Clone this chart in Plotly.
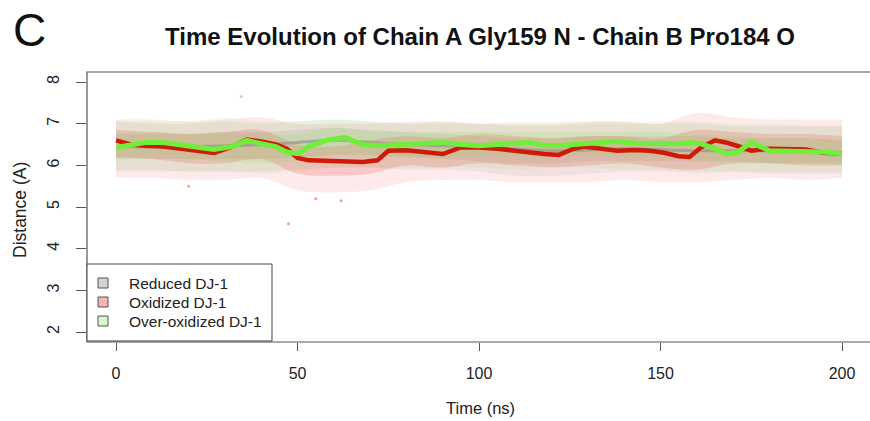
import plotly.graph_objects as go

# ---------------- data ----------------
series_names = ["Reduced DJ-1", "Oxidized DJ-1", "Over-oxidized DJ-1"]

# smoothed lines
line_t = [0, 4, 8, 13, 18, 23, 27, 32, 36, 40, 44, 47, 50, 53, 58, 63, 68, 72, 75, 80,
          85, 90, 95, 100, 105, 110, 114, 118, 122, 126, 129, 134, 138, 143, 147, 151,
          155, 158, 161, 165, 168, 171, 175, 180, 185, 190, 195, 200]
red_line = [6.60, 6.50, 6.47, 6.45, 6.40, 6.35, 6.30, 6.45, 6.62, 6.57, 6.50, 6.40, 6.18,
            6.12, 6.10, 6.08, 6.08, 6.12, 6.35, 6.36, 6.32, 6.27, 6.43, 6.43, 6.40, 6.35,
            6.30, 6.27, 6.25, 6.40, 6.45, 6.38, 6.35, 6.37, 6.35, 6.30, 6.22, 6.20, 6.42,
            6.60, 6.55, 6.47, 6.35, 6.40, 6.40, 6.38, 6.30, 6.28]
green_line = [6.43, 6.50, 6.55, 6.55, 6.50, 6.45, 6.38, 6.45, 6.60, 6.52, 6.45, 6.32, 6.28,
              6.45, 6.60, 6.67, 6.50, 6.47, 6.48, 6.50, 6.53, 6.55, 6.50, 6.47, 6.50, 6.52,
              6.55, 6.48, 6.47, 6.50, 6.52, 6.55, 6.57, 6.53, 6.52, 6.52, 6.52, 6.55, 6.52,
              6.40, 6.28, 6.30, 6.55, 6.35, 6.35, 6.33, 6.32, 6.28]
grey_t = [0, 20, 40, 50, 60, 70, 80, 100, 120, 140, 160, 180, 200]
grey_line = [6.45, 6.45, 6.50, 6.55, 6.60, 6.55, 6.50, 6.45, 6.35, 6.40, 6.35, 6.35, 6.30]

# spread of the point clouds (outer = sparse extent, inner = dense core)
band_t = [0, 10, 20, 30, 40, 50, 60, 70, 80, 90, 100, 110, 120, 130, 140, 150, 160, 170, 180, 190, 200]
ox_outer_lo = [5.70, 5.70, 5.65, 5.65, 5.70, 5.40, 5.35, 5.40, 5.60, 5.65, 5.65, 5.60, 5.60, 5.60, 5.65, 5.60, 5.60, 5.65, 5.70, 5.65, 5.70]
ox_outer_hi = [7.10, 7.10, 7.05, 7.10, 7.15, 7.00, 7.00, 7.00, 7.05, 7.05, 7.00, 7.00, 7.00, 7.05, 7.05, 7.00, 7.25, 7.15, 7.10, 7.10, 7.10]
ox_inner_lo = [6.20, 6.15, 6.05, 6.05, 6.15, 5.80, 5.75, 5.80, 6.00, 5.95, 6.05, 6.00, 5.95, 6.00, 6.05, 5.95, 5.90, 6.05, 6.05, 6.00, 6.00]
ox_inner_hi = [6.85, 6.80, 6.75, 6.80, 6.85, 6.50, 6.45, 6.60, 6.70, 6.65, 6.75, 6.70, 6.65, 6.70, 6.70, 6.65, 6.85, 6.80, 6.75, 6.75, 6.70]
ov_outer_lo = [5.90, 5.90, 5.85, 5.85, 5.80, 5.85, 5.95, 5.95, 5.95, 5.95, 5.95, 5.90, 5.95, 5.95, 5.90, 5.90, 5.80, 5.85, 5.85, 5.85, 5.85]
ov_outer_hi = [7.05, 7.05, 7.05, 7.15, 7.05, 7.05, 7.10, 7.05, 7.00, 7.05, 7.00, 7.05, 7.05, 7.05, 7.05, 7.05, 7.05, 7.00, 7.00, 6.95, 6.95]
ov_inner_lo = [6.15, 6.20, 6.15, 6.10, 6.05, 6.10, 6.25, 6.20, 6.20, 6.20, 6.20, 6.20, 6.20, 6.25, 6.20, 6.20, 6.10, 6.05, 6.05, 6.05, 6.00]
ov_inner_hi = [6.75, 6.80, 6.75, 6.75, 6.75, 6.75, 6.90, 6.80, 6.80, 6.80, 6.80, 6.80, 6.80, 6.80, 6.80, 6.80, 6.75, 6.70, 6.65, 6.65, 6.60]
rd_outer_lo = [5.85, 5.85, 5.85, 5.85, 5.85, 5.90, 5.95, 5.95, 5.90, 5.90, 5.85, 5.75, 5.75, 5.80, 5.85, 5.85, 5.85, 5.85, 5.80, 5.80, 5.80]
rd_outer_hi = [7.05, 7.00, 7.00, 7.05, 7.00, 7.05, 7.10, 7.05, 7.00, 7.00, 7.00, 6.95, 6.95, 7.00, 7.00, 7.00, 7.00, 6.95, 6.95, 6.95, 6.95]
rd_inner_lo = [6.15, 6.15, 6.15, 6.15, 6.15, 6.20, 6.25, 6.25, 6.20, 6.15, 6.10, 6.05, 6.05, 6.10, 6.10, 6.10, 6.10, 6.10, 6.05, 6.05, 6.05]
rd_inner_hi = [6.75, 6.75, 6.75, 6.80, 6.80, 6.85, 6.90, 6.85, 6.80, 6.75, 6.70, 6.65, 6.65, 6.70, 6.70, 6.70, 6.70, 6.65, 6.65, 6.65, 6.60]

# a few isolated points
ox_out_t = [47.5, 55, 62, 20]
ox_out_d = [4.60, 5.20, 5.15, 5.50]
rd_out_t = [34.5]
rd_out_d = [7.65]

x_ticks = [0, 50, 100, 150, 200]
y_ticks = [2, 3, 4, 5, 6, 7, 8]

# ---------------- styling ----------------
FONT = "Liberation Sans, Arial, sans-serif"
col_rd = (150, 150, 150)
col_ox = (235, 60, 60)
col_ov = (140, 225, 90)
leg_cols = ["#d3d3d3", "#f4b6b4", "#d9f7cc"]

# pixel -> paper helpers (plot area: x 87..870, y 72..342)
def px(x):
    return (x - 87) / 783


def py(y):
    return (342 - y) / 270


def rgba(c, a):
    return "rgba(%d,%d,%d,%.3f)" % (c[0], c[1], c[2], a)


fig = go.Figure()


def add_band(lo, hi, c, a):
    fig.add_trace(go.Scatter(x=band_t, y=lo, mode="lines", line=dict(width=0, shape="spline"),
                             showlegend=False, hoverinfo="skip"))
    fig.add_trace(go.Scatter(x=band_t, y=hi, mode="lines", line=dict(width=0, shape="spline"),
                             fill="tonexty", fillcolor=rgba(c, a), showlegend=False, hoverinfo="skip"))


add_band(rd_outer_lo, rd_outer_hi, col_rd, 0.11)
add_band(ox_outer_lo, ox_outer_hi, col_ox, 0.11)
add_band(ov_outer_lo, ov_outer_hi, col_ov, 0.11)
add_band(rd_inner_lo, rd_inner_hi, col_rd, 0.16)
add_band(ox_inner_lo, ox_inner_hi, col_ox, 0.19)
add_band(ov_inner_lo, ov_inner_hi, col_ov, 0.19)

fig.add_trace(go.Scatter(x=ox_out_t, y=ox_out_d, mode="markers",
                         marker=dict(size=3, color=rgba(col_ox, 0.5)), showlegend=False))
fig.add_trace(go.Scatter(x=rd_out_t, y=rd_out_d, mode="markers",
                         marker=dict(size=3, color=rgba(col_rd, 0.5)), showlegend=False))

fig.add_trace(go.Scatter(x=grey_t, y=grey_line, mode="lines",
                         line=dict(color="rgba(140,140,140,0.6)", width=3, shape="spline"),
                         showlegend=False))
fig.add_trace(go.Scatter(x=line_t, y=red_line, mode="lines",
                         line=dict(color="#d01a08", width=4.5), showlegend=False))
fig.add_trace(go.Scatter(x=line_t, y=green_line, mode="lines",
                         line=dict(color="#6fee3a", width=5), showlegend=False))

fig.update_layout(
    width=870, height=421,
    margin=dict(l=87, r=0, t=72, b=79),
    paper_bgcolor="white", plot_bgcolor="white",
    font=dict(family=FONT, size=16, color="#222"),
    title=dict(text="<b>Time Evolution of Chain A Gly159 N - Chain B Pro184 O</b>",
               x=px(480), xref="paper", y=1 - 37 / 421, yref="container",
               xanchor="center", yanchor="middle",
               font=dict(family=FONT, size=24, color="#111")),
    showlegend=False,
)

fig.update_xaxes(range=[-8, 207.7], tickvals=x_ticks, ticktext=[str(v) for v in x_ticks],
                 ticks="outside", ticklen=8, tickcolor="#555", showgrid=False, zeroline=False,
                 showline=False, ticklabelstandoff=9, tickfont=dict(size=16, color="#222"))
fig.update_yaxes(range=[1.76, 8.24], tickvals=y_ticks, ticktext=[str(v) for v in y_ticks],
                 ticks="outside", ticklen=10, tickcolor="#555", showgrid=False, zeroline=False,
                 showline=False, tickangle=-90, ticklabelstandoff=11,
                 tickfont=dict(size=16, color="#222"))

# plot frame (right side lies just outside the picture)
fig.add_shape(type="rect", xref="paper", yref="paper", x0=0, x1=1.05, y0=0, y1=1,
              line=dict(color="#555", width=1.2), layer="above")

# legend box drawn like R's legend()
fig.add_shape(type="rect", xref="paper", yref="paper", x0=px(87), x1=px(272),
              y0=py(341), y1=py(264), line=dict(color="#444", width=1),
              fillcolor="white", layer="above")
for i, (name, c) in enumerate(zip(series_names, leg_cols)):
    yc = 283 + 19 * i
    fig.add_shape(type="rect", xref="paper", yref="paper", x0=px(98), x1=px(108),
                  y0=py(yc + 5), y1=py(yc - 5), line=dict(color="#555", width=1),
                  fillcolor=c, layer="above")
    fig.add_annotation(text=name, xref="paper", yref="paper", x=px(127), y=py(yc),
                       showarrow=False, xanchor="left", yanchor="middle",
                       font=dict(family=FONT, size=15.5, color="#222"))

fig.add_annotation(text="Time (ns)", xref="paper", yref="paper", x=px(480),
                   y=py(408), showarrow=False, xanchor="center", yanchor="middle",
                   font=dict(family=FONT, size=16.5, color="#222"))
fig.add_annotation(text="Distance (A)", xref="paper", yref="paper", x=px(20),
                   y=py(210), showarrow=False, textangle=-90,
                   xanchor="center", yanchor="middle",
                   font=dict(family=FONT, size=17.5, color="#222"))
fig.add_annotation(text="C", xref="paper", yref="paper", x=px(29),
                   y=py(30), showarrow=False, xanchor="center", yanchor="middle",
                   font=dict(family=FONT, size=46, color="#111"))

fig.write_html("out.html")
